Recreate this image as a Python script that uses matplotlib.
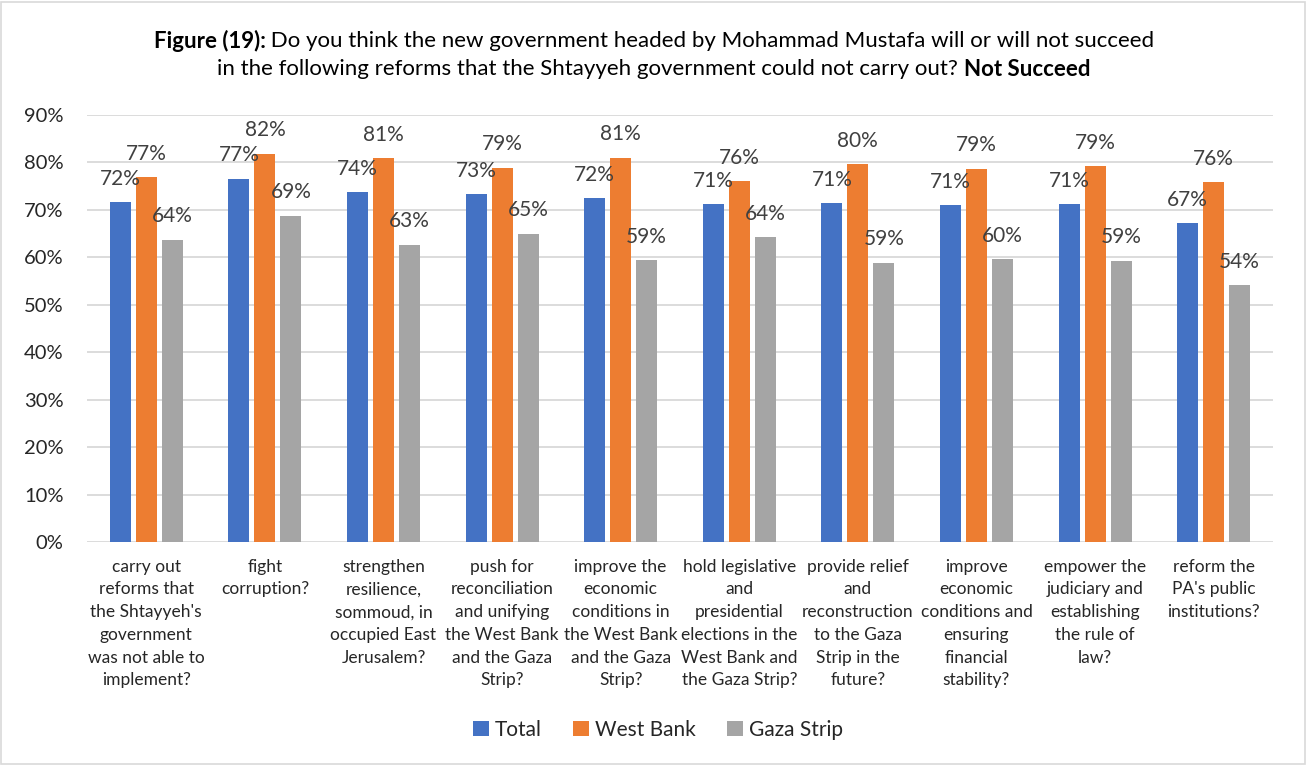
import matplotlib.pyplot as plt
import numpy as np
from matplotlib.patches import Rectangle

plt.rcParams['font.family'] = ['Lato', 'DejaVu Sans']

categories = [
    "carry out\nreforms that\nthe Shtayyeh's\ngovernment\nwas not able to\nimplement?",
    "fight\ncorruption?",
    "strengthen\nresilience,\nsommoud, in\noccupied East\nJerusalem?",
    "push for\nreconciliation\nand unifying\nthe West Bank\nand the Gaza\nStrip?",
    "improve the\neconomic\nconditions in\nthe West Bank\nand the Gaza\nStrip?",
    "hold legislative\nand\npresidential\nelections in the\nWest Bank and\nthe Gaza Strip?",
    "provide relief\nand\nreconstruction\nto the Gaza\nStrip in the\nfuture?",
    "improve\neconomic\nconditions and\nensuring\nfinancial\nstability?",
    "empower the\njudiciary and\nestablishing\nthe rule of\nlaw?",
    "reform the\nPA's public\ninstitutions?",
]
total = [71.6, 76.6, 73.7, 73.3, 72.4, 71.2, 71.4, 71.0, 71.2, 67.2]
west_bank = [76.9, 81.8, 80.9, 78.9, 81.0, 76.0, 79.6, 78.6, 79.2, 75.8]
gaza = [63.7, 68.8, 62.6, 64.9, 59.4, 64.2, 58.9, 59.6, 59.3, 54.1]

series = [("Total", total, "#4472C4"),
          ("West Bank", west_bank, "#ED7D31"),
          ("Gaza Strip", gaza, "#A5A5A5")]

fig = plt.figure(figsize=(13.08, 7.65), dpi=100)
ax = fig.add_axes([0.0665, 0.2915, 0.9067, 0.5582])

x = np.arange(len(categories))
width = 0.177
step = 0.219
for i, (name, vals, color) in enumerate(series):
    pos = x + (i - 1) * step
    ax.bar(pos, vals, width, color=color, label=name, zorder=3)
    for px, v in zip(pos, vals):
        ax.annotate(f"{v:.0f}%", (px, v), xytext=(0, 17), textcoords="offset points",
                    ha="center", va="center", fontsize=15, color="#404040", zorder=4)

ax.set_xlim(-0.5, len(categories) - 0.5)
ax.set_ylim(0, 90)
ax.set_yticks(np.arange(0, 91, 10))
ax.set_yticklabels([f"{t}%" for t in range(0, 91, 10)], fontsize=14.5, color="#262626")
ax.set_xticks(x)
ax.set_xticklabels(categories, fontsize=12.5, color="#262626", linespacing=1.52, va="top")
ax.tick_params(axis="both", length=0)
ax.tick_params(axis="y", pad=17)
ax.tick_params(axis="x", pad=12)
ax.grid(axis="y", color="#D9D9D9", linewidth=1.3, zorder=0)
for s in ax.spines.values():
    s.set_visible(False)

ax.legend(loc="center", bbox_to_anchor=(658 / 1308, 1 - 730 / 765), bbox_transform=fig.transFigure,
          ncol=3, frameon=False, fontsize=15, handlelength=0.75, handleheight=0.75,
          handletextpad=0.3, columnspacing=1.5, labelcolor="#262626")

# title with bold runs, centred line by line
title_lines = [
    [("Figure (19):", "bold"), (" Do you think the new government headed by Mohammad Mustafa will or will not succeed", "normal")],
    [("in the following reforms that the Shtayyeh government could not carry out? ", "normal"), ("Not Succeed", "bold")],
]
renderer = fig.canvas.get_renderer()
for row, y in zip(title_lines, [1 - 41 / 765, 1 - 69 / 765]):
    texts = [fig.text(0, y, t, fontsize=16, fontweight=w, ha="left", va="center", color="black")
             for t, w in row]
    widths = [t.get_window_extent(renderer).width / fig.bbox.width for t in texts]
    start = 654 / 1308 - sum(widths) / 2
    for t, w in zip(texts, widths):
        t.set_x(start)
        start += w

fig.patches.append(Rectangle((0.001, 0.001), 0.997, 0.997, transform=fig.transFigure,
                             fill=False, edgecolor="#D9D9D9", linewidth=1.2))

fig.savefig("out.png", dpi=100)
